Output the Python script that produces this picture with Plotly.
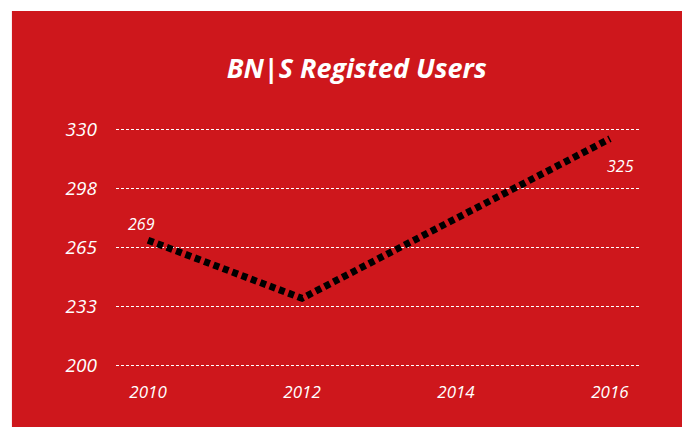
import plotly.graph_objects as go

# data
years = [2010, 2012, 2016]
users = [269, 237, 325]
point_labels = ["269", "", "325"]

x_ticks = [2010, 2012, 2014, 2016]
y_ticks = [200, 232.5, 265, 297.5, 330]
y_ticktext = ["200", "233", "265", "298", "330"]

RED = "#CE171C"
FONT = "Open Sans"

fig = go.Figure()
fig.add_trace(go.Scatter(
    x=years, y=users,
    mode="lines",
    line=dict(color="black", width=7, dash="6px,4px"),
    hoverinfo="x+y",
    showlegend=False,
))

# value labels next to the first and last point
shifts = [(-7, 16), (0, 0), (11, -27)]
for x, y, t, (dx, dy) in zip(years, users, point_labels, shifts):
    if t:
        fig.add_annotation(x=x, y=y, text=t, showarrow=False,
                           xshift=dx, yshift=dy,
                           font=dict(family=FONT, size=16, color="white", style="italic"))

# red card behind the plot (leaves a thin white strip top/left)
fig.add_shape(type="rect", xref="paper", yref="paper",
              x0=-0.199, x1=1.09, y0=-0.3, y1=1.473,
              fillcolor=RED, line_width=0, layer="below")

fig.update_layout(
    width=682, height=427,
    margin=dict(l=116, r=43, t=126, b=58),
    paper_bgcolor="white",
    plot_bgcolor="rgba(0,0,0,0)",
    title=dict(text="<b><i>BN|S Registed Users</i></b>",
               x=0.523, xanchor="center", xref="container",
               y=0.84, yanchor="middle",
               font=dict(family=FONT, size=27, color="white")),
)
fig.update_xaxes(range=[2009.584, 2016.377], tickvals=x_ticks,
                 showgrid=False, zeroline=False, showline=False,
                 ticks="", ticklabelstandoff=11,
                 tickfont=dict(family=FONT, size=17, color="white", style="italic"))
fig.update_yaxes(range=[198, 332], tickvals=y_ticks, ticktext=y_ticktext,
                 showgrid=True, gridcolor="white", griddash="3px,2px", gridwidth=1,
                 zeroline=False, showline=False, ticks="", ticklabelstandoff=18,
                 tickfont=dict(family=FONT, size=19, color="white", style="italic"))

fig.write_html("out.html", config={"displayModeBar": False},
               post_script="document.body.style.margin='0';")
